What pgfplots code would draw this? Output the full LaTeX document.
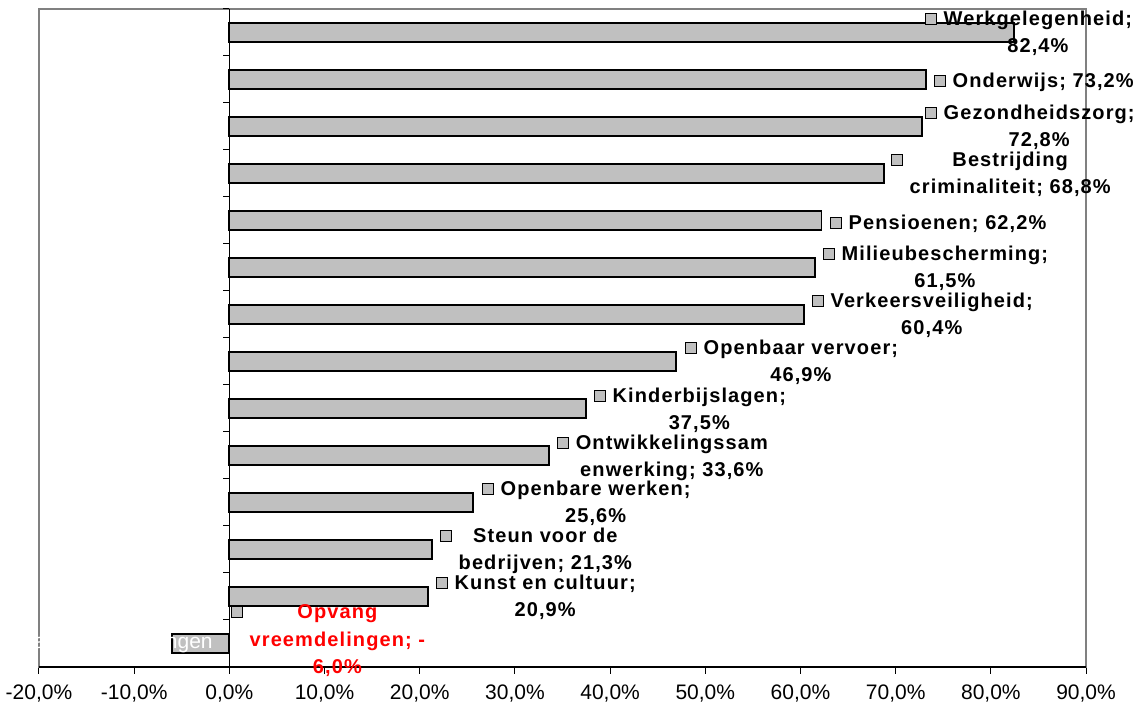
\documentclass[border=0pt]{standalone}
\usepackage{pgfplots}
\pgfplotsset{compat=1.18}
\usepackage{fontspec}
\setmainfont{Liberation Sans}
\newfontfamily\labfont[LetterSpace=5.5]{Liberation Sans}
\definecolor{barfill}{HTML}{C0C0C0}
\definecolor{framegray}{HTML}{808080}
\newcommand\keybox{\raisebox{1.5pt}{\setlength{\fboxsep}{0pt}\setlength{\fboxrule}{1.2pt}\fcolorbox{black}{barfill}{\rule{0pt}{9.6pt}\rule{9.6pt}{0pt}}}}
\newcommand\lab[3][black]{\node[anchor=base west, inner sep=0pt, text=#1,
  font=\labfont\bfseries\fontsize{20}{27.5}\selectfont] at (axis cs:#2) {\keybox\hspace{6.5pt}\setlength{\tabcolsep}{0pt}\begin{tabular}[t]{c}#3\end{tabular}};}
\begin{document}
\begin{tikzpicture}
\begin{axis}[
  at={(0,0)}, anchor=south west,
  width=1047pt, height=658pt, scale only axis,
  xmin=-20, xmax=90, ymin=0.5, ymax=14.5,
  clip=false,
  xbar, bar width=19pt,
  axis line style={draw=framegray, line width=1.3pt},
  ytick=\empty,
  xtick={-20,-10,...,90},
  xtick pos=left, tick align=outside,
  major tick length=7pt,
  xtick style={black, line width=1pt},
  xticklabel={\pgfmathprintnumber[fixed,fixed zerofill,precision=1,use comma]{\tick}\%},
  /pgf/number format/assume math mode=true,
  xticklabel style={font=\fontsize{21}{24}\selectfont, yshift=-7pt},
]
\addplot[fill=barfill, draw=black, line width=1.8pt] coordinates {
  (82.4,14) (73.2,13) (72.8,12) (68.8,11) (62.2,10) (61.5,9) (60.4,8)
  (46.9,7) (37.5,6) (33.6,5) (25.6,4) (21.3,3) (20.9,2) (-6.0,1)
};
\draw[black, line width=1.3pt] (rel axis cs:0,0) -- (rel axis cs:1,0);
\draw[black, line width=1.5pt] (axis cs:0,0.5) -- (axis cs:0,14.5);
\pgfplotsinvokeforeach{0.5,1.5,2.5,3.5,4.5,5.5,6.5,7.5,8.5,9.5,10.5,11.5,12.5,13.5,14.5}{
  \draw[black, line width=1pt] (axis cs:0,#1) -- ++(-6pt,0pt);
}
\node[anchor=base east, inner sep=0pt, text=white, font=\fontsize{21}{24}\selectfont]
  at (axis cs:0,1) [xshift=-16.5pt, yshift=-5pt] {Opvang vreemdelingen};
\lab{73.08,14.15}{Werkgelegenheid;\\82,4\%}
\lab{74.03,12.83}{Onderwijs; 73,2\%}
\lab{73.08,12.15}{Gezondheidszorg;\\72,8\%}
\lab{69.51,11.15}{Bestrijding\\criminaliteit; 68,8\%}
\lab{63.10,9.81}{Pensioenen; 62,2\%}
\lab{62.36,9.15}{Milieubescherming;\\61,5\%}
\lab{61.21,8.15}{Verkeersveiligheid;\\60,4\%}
\lab{47.87,7.15}{Openbaar vervoer;\\46,9\%}
\lab{38.31,6.13}{Kinderbijslagen;\\37,5\%}
\lab{34.43,5.13}{Ontwikkelingssam\\enwerking; 33,6\%}
\lab{26.54,4.15}{Openbare werken;\\25,6\%}
\lab{22.13,3.15}{Steun voor de\\bedrijven; 21,3\%}
\lab{21.71,2.15}{Kunst en cultuur;\\20,9\%}
\lab[red]{0.17,1.53}{Opvang\\vreemdelingen; -\\6,0\%}
\end{axis}
\pgfresetboundingbox
\useasboundingbox (-39pt,-41pt) rectangle (1100pt,667pt);
\end{tikzpicture}
\end{document}
